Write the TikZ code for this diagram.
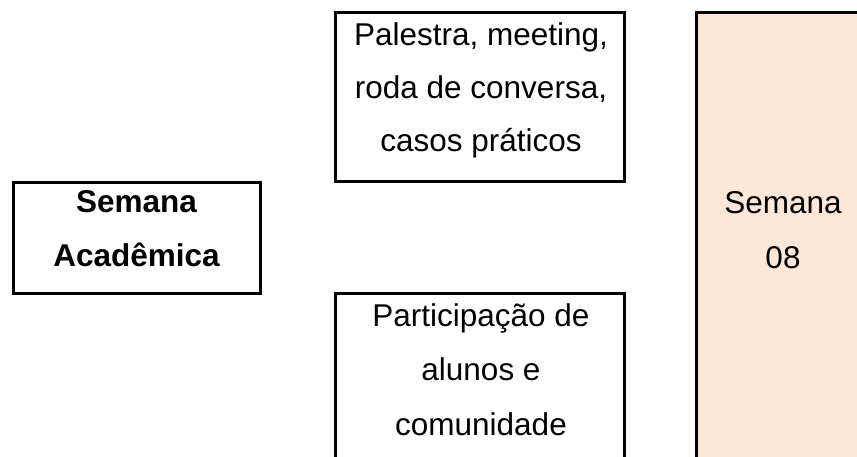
\documentclass[tikz,border=0pt]{standalone}
\usepackage{fontspec}
\setmainfont{Liberation Sans}
\definecolor{peach}{HTML}{FCE7D8}
\begin{document}
\begin{tikzpicture}[x=1pt,y=-1pt,
  boxstyle/.style={draw=black,line width=3pt,inner sep=0pt,anchor=center},
  txt/.style={inner sep=0pt,anchor=base,font=\fontsize{31.5}{38}\selectfont},
  btxt/.style={txt,font=\bfseries\fontsize{31.5}{38}\selectfont},
]
\useasboundingbox (0,0) rectangle (857,456);
\clip (0,0) rectangle (857,456);
% boxes
\node[boxstyle,minimum width=247pt,minimum height=111pt] (acad) at (136.5,237.5) {};
\node[boxstyle,minimum width=289pt,minimum height=169pt] (pal) at (479.5,96.5) {};
\node[boxstyle,minimum width=289pt,minimum height=169pt] (part) at (479.5,377.5) {};
\node[boxstyle,fill=peach,minimum width=174pt,minimum height=450pt] (sem) at (783,237) {};
% texts
\node[btxt] (acad1) at (136.5,212) {Semana};
\node[btxt] (acad2) at (136.5,266) {Acadêmica};
\node[txt] (pal1) at (481,45) {Palestra, meeting,};
\node[txt] (pal2) at (481,98) {roda de conversa,};
\node[txt] (pal3) at (481,151) {casos práticos};
\node[txt] (part1) at (481,326) {Participação de};
\node[txt] (part2) at (481,380) {alunos e};
\node[txt] (part3) at (481,435) {comunidade};
\node[txt] (sem1) at (783,213) {Semana};
\node[txt] (sem2) at (783,268) {08};
\end{tikzpicture}
\end{document}
